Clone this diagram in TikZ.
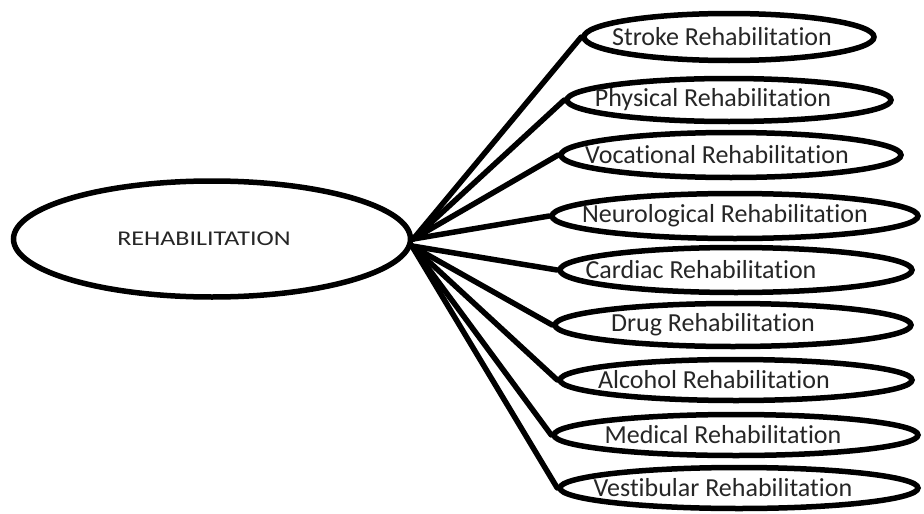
\documentclass[tikz,border=0pt]{standalone}
\usepackage{fontspec}
\setmainfont[Ligatures=NoCommon]{Carlito}
\usetikzlibrary{shapes.geometric}
\newcommand{\shiftedtext}[2]{\makebox[0pt]{\hspace*{#1}#2\hspace*{-#1}}}
\begin{document}
\begin{tikzpicture}[x=1pt,y=-1pt,
  oval/.style={ellipse,draw=black,line width=5.5pt,fill=white,inner sep=0pt,text=black!85},
  child/.style={oval,font=\fontsize{26}{26}\selectfont},
  link/.style={draw=black,line width=5.5pt,line cap=round}]
\useasboundingbox (0,0) rectangle (924,514);
\node[oval,minimum width=397pt,minimum height=116pt] (c) at (212,239)
  {\shiftedtext{-8pt}{\scalebox{1.24}[1]{\fontsize{21}{21}\selectfont REHABILITATION}}};
\node[child,minimum width=290pt,minimum height=47pt] (s1) at (729,37) {\shiftedtext{-7pt}{Stroke Rehabilitation}};
\node[child,minimum width=324pt,minimum height=43pt] (s2) at (729,100) {\shiftedtext{-16pt}{Physical Rehabilitation}};
\node[child,minimum width=340pt,minimum height=45pt] (s3) at (731,155) {\shiftedtext{-14pt}{Vocational Rehabilitation}};
\node[child,minimum width=366pt,minimum height=45pt] (s4) at (735,216) {\shiftedtext{-10pt}{Neurological Rehabilitation}};
\node[child,minimum width=352pt,minimum height=45pt] (s5) at (736,270) {\shiftedtext{-35pt}{Cardiac Rehabilitation}};
\node[child,minimum width=356pt,minimum height=43pt] (s6) at (733,325) {\shiftedtext{-20pt}{Drug Rehabilitation}};
\node[child,minimum width=352pt,minimum height=41pt] (s7) at (736,380) {\shiftedtext{-22pt}{Alcohol Rehabilitation}};
\node[child,minimum width=364pt,minimum height=41pt] (s8) at (736,435) {\shiftedtext{-13pt}{Medical Rehabilitation}};
\node[child,minimum width=358pt,minimum height=41pt] (s9) at (739,488) {\shiftedtext{-16pt}{Vestibular Rehabilitation}};
\foreach \n in {s1,s2,s3,s4}
  \draw[link] (c.east) -- (\n.west);
\foreach \n in {s5,s6,s7,s8,s9}
  \draw[link] (c.-2.5) -- (\n.west);
\end{tikzpicture}
\end{document}
